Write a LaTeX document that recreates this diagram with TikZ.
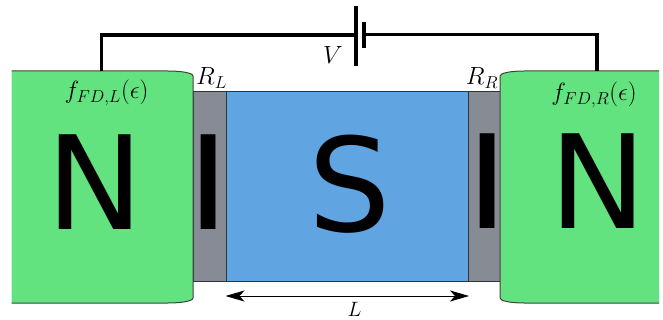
\documentclass[tikz,border=0pt]{standalone}
\usepackage{fontspec}
\newfontfamily\bigsans{DejaVu Sans}
\usetikzlibrary{arrows.meta}
\definecolor{ngreen}{HTML}{62E37F}
\definecolor{sblue}{HTML}{61A4E2}
\definecolor{igray}{HTML}{878C94}
\tikzset{
  x=1pt,y=-1pt,
  edgeline/.style={draw=black!75,line width=1pt},
  region/.style={draw=black!80,line width=1pt,minimum height=190pt,inner sep=0pt,outer sep=0pt,anchor=north west},
  wire/.style={line width=3.3pt,line join=miter},
  plate/.style={line width=3.3pt},
  bigletter/.style={font=\bigsans\fontsize{130}{130}\selectfont,text=black,inner sep=0pt},
  mathlabel/.style={inner sep=0pt},
  dimline/.style={line width=1pt,{Stealth[length=19pt,width=11pt,inset=5pt]}-{Stealth[length=19pt,width=11pt,inset=5pt]}}
}
\begin{document}
\begin{tikzpicture}
\useasboundingbox (0,0) rectangle (663,320);
% gray and blue regions
\node[region,fill=igray,minimum width=33pt] (il) at (193,91.5) {};
\node[region,fill=sblue,minimum width=242pt] (s) at (226,91.5) {};
\node[region,fill=igray,minimum width=32pt] (ir) at (468,91.5) {};
% green regions
\fill[ngreen] (11.5,71) -- (168,71) .. controls (182,71) and (193,73) .. (193,76) -- (193,298) .. controls (193,301) and (182,303) .. (168,303) -- (11.5,303) -- cycle;
\draw[edgeline] (11.5,71) -- (168,71) .. controls (182,71) and (193,73) .. (193,76) -- (193,298) .. controls (193,301) and (182,303) .. (168,303) -- (11.5,303);
\fill[ngreen] (659,71) -- (524,71) .. controls (511,71) and (500,73) .. (500,76) -- (500,298) .. controls (500,301) and (511,303) .. (524,303) -- (659,303) -- cycle;
\draw[edgeline] (659,71) -- (524,71) .. controls (511,71) and (500,73) .. (500,76) -- (500,298) .. controls (500,301) and (511,303) .. (524,303) -- (659,303);
% big letters
\node[bigletter] (nl) at (95.5,182.5) {N};
\node[bigletter,xscale=1.15] (il2) at (208.3,182.5) {I};
\node[bigletter] (sl) at (350,184) {S};
\node[bigletter,xscale=1.15] (ir2) at (487.5,181.5) {I};
\node[bigletter] (nr) at (598,181.5) {N};
% labels
\node[mathlabel,font=\fontsize{23.5}{26}\selectfont] (fl) at (106.5,93) {$f_{FD,L}(\epsilon)$};
\node[mathlabel,font=\fontsize{25}{27}\selectfont] (fr) at (594,95) {$f_{FD,R}(\epsilon)$};
\node[mathlabel,font=\fontsize{25}{27}\selectfont] (rl) at (211.5,78) {$R_L$};
\node[mathlabel,font=\fontsize{24}{27}\selectfont] (rr) at (482,78) {$R_R$};
\node[mathlabel,font=\fontsize{33}{36}\selectfont] (v) at (333,55) {$V$};
\node[mathlabel,font=\fontsize{21}{23}\selectfont] (ll) at (354.5,309.5) {$L$};
% circuit
\coordinate (wl) at (101.5,71);
\coordinate (wr) at (597,71);
\coordinate (pa) at (356,35);
\coordinate (pb) at (364,34.5);
\draw[wire] (wl) |- (pa);
\draw[wire] (pb) -| (wr);
\draw[plate] (356,6) -- (356,66);
\draw[plate] (364,22) -- (364,48);
% length arrow
\coordinate (al) at (225.5,296);
\coordinate (ar) at (469,296);
\draw[dimline] (al) -- (ar);
\end{tikzpicture}
\end{document}
